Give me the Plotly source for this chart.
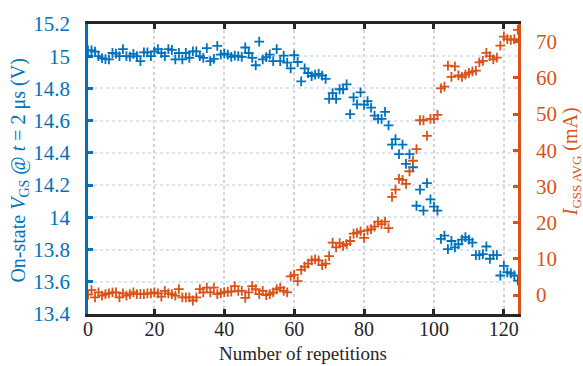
import plotly.graph_objects as go

# Repetition index
repetitions = list(range(1, 125))

# On-state gate-source voltage at t = 2 us (V)
vgs_on = [
    15.036, 15.036, 15.028, 15.000, 14.988, 14.982, 14.980, 15.020, 15.016, 15.000,
    15.044, 15.000, 14.998, 15.014, 15.000, 14.970, 15.024, 15.024, 15.000, 15.030,
    15.044, 15.020, 15.000, 15.044, 15.040, 14.980, 15.020, 14.980, 15.020, 14.990,
    15.030, 15.030, 15.000, 14.990, 15.050, 14.970, 14.984, 15.064, 15.010, 15.016,
    15.010, 14.996, 15.004, 15.000, 14.996, 15.054, 15.020, 14.990, 14.944, 15.090,
    14.980, 14.994, 15.010, 14.970, 15.044, 14.970, 15.004, 14.960, 14.924, 15.006,
    14.964, 14.844, 14.924, 14.896, 14.876, 14.886, 14.890, 14.880, 14.860, 14.735,
    14.771, 14.735, 14.795, 14.795, 14.825, 14.641, 14.745, 14.701, 14.775, 14.700,
    14.721, 14.681, 14.631, 14.611, 14.611, 14.655, 14.571, 14.451, 14.485, 14.392,
    14.451, 14.332, 14.392, 14.311, 14.072, 14.172, 14.042, 14.212, 14.112, 14.066,
    14.042, 13.866, 13.886, 13.803, 13.853, 13.813, 13.833, 13.862, 13.877, 13.862,
    13.843, 13.766, 13.766, 13.772, 13.819, 13.743, 13.766, 13.766, 13.639, 13.699,
    13.659, 13.653, 13.639, 13.607,
]

# Average gate leakage current (mA)
igss_avg = [
    0.08, 1.33, -0.64, 0.71, -0.19, 0.27, 0.43, 0.71, 0.71, -0.64,
    0.43, -0.19, 0.27, 0.71, 0.27, 0.27, 0.27, 0.43, 0.43, 0.71,
    0.43, -0.45, 1.15, 0.43, 0.27, -0.19, 1.60, -0.64, -0.64, -0.64,
    -1.52, -0.64, 1.60, 0.71, 2.03, 0.71, 2.03, 0.27, 0.50, 0.80,
    0.90, 0.97, 2.48, 1.15, 1.15, -0.80, 0.70, 2.48, 1.59, 0.26,
    1.15, -0.01, 0.26, 0.70, 1.59, 2.04, 1.15, 0.70, 5.15, 5.59,
    3.81, 6.92, 7.81, 8.70, 9.59, 9.86, 9.59, 8.26, 8.70, 10.75,
    14.48, 13.15, 14.30, 13.60, 14.04, 14.93, 16.97, 17.15, 17.59, 15.81,
    17.86, 18.20, 18.90, 20.30, 19.60, 20.30, 18.50, 27.10, 29.10, 32.10,
    31.80, 30.70, 34.20, 37.10, 40.30, 48.30, 48.30, 44.00, 48.70, 48.70,
    49.80, 57.10, 57.60, 63.40, 60.30, 63.20, 60.70, 60.30, 60.90, 61.40,
    61.80, 62.00, 64.30, 64.70, 66.90, 66.00, 65.10, 65.60, 68.90, 71.40,
    70.70, 70.50, 70.70, 73.30,
]

x_ticks = [1, 20, 40, 60, 80, 100, 120]
x_tick_text = ["0", "20", "40", "60", "80", "100", "120"]
left_ticks = [13.4, 13.6, 13.8, 14.0, 14.2, 14.4, 14.6, 14.8, 15.0, 15.2]
left_tick_text = ["13.4", "13.6", "13.8", "14", "14.2", "14.4", "14.6", "14.8", "15", "15.2"]
right_ticks = [0, 10, 20, 30, 40, 50, 60, 70]

BLUE = "#0072BD"
ORANGE = "#D95319"
DARK = "#262626"
FONT = "Liberation Serif, Times New Roman, serif"

fig = go.Figure()
fig.add_trace(go.Scatter(
    x=repetitions, y=vgs_on, mode="markers", yaxis="y",
    marker=dict(symbol="cross-thin", size=7, line=dict(color=BLUE, width=1.8)),
    showlegend=False,
))
fig.add_trace(go.Scatter(
    x=repetitions, y=igss_avg, mode="markers", yaxis="y2",
    marker=dict(symbol="cross-thin", size=7, line=dict(color=ORANGE, width=1.8)),
    showlegend=False,
))

pl, pr, pt, pb = 87.8, 518.3, 13.3, 314.0
W, H = 583, 366
pw, ph = pr - pl, pb - pt

fig.update_layout(
    width=W, height=H,
    margin=dict(l=pl, r=W - pr, t=pt, b=H - pb, pad=0),
    paper_bgcolor="white", plot_bgcolor="white",
    font=dict(family=FONT, size=20, color=DARK),
    xaxis=dict(
        range=[1, 124.05], tickvals=x_ticks, ticktext=x_tick_text,
        showline=True, linecolor=DARK, linewidth=2.6, mirror="ticks",
        ticks="inside", ticklen=5, tickwidth=2.6, tickcolor=DARK,
        showgrid=True, gridcolor="#d4d4d4", griddash="dot", gridwidth=2,
        zeroline=False, tickfont=dict(family=FONT, size=20, color=DARK),
        ticklabelstandoff=-5,
    ),
    yaxis=dict(
        range=[13.4, 15.2], tickvals=left_ticks, ticktext=left_tick_text,
        showline=True, linecolor=BLUE, linewidth=2.8,
        ticks="inside", ticklen=5, tickwidth=2.6, tickcolor=BLUE,
        showgrid=True, gridcolor="#d6e6f4", griddash="dot", gridwidth=2,
        zeroline=False, tickfont=dict(family=FONT, size=21, color=BLUE),
        ticklabelstandoff=11,
    ),
    yaxis2=dict(
        range=[-5.25, 74.9], tickvals=right_ticks, overlaying="y", side="right",
        showline=True, linecolor=ORANGE, linewidth=2.8,
        ticks="inside", ticklen=5, tickwidth=2.6, tickcolor=ORANGE,
        showgrid=False, zeroline=False,
        tickfont=dict(family=FONT, size=21, color=ORANGE),
        ticklabelstandoff=11,
    ),
    annotations=[
        dict(text="Number of repetitions", xref="paper", yref="paper",
             x=0.5, y=(pb - 355) / ph, xanchor="center", yanchor="middle",
             showarrow=False, font=dict(family=FONT, size=19, color=DARK)),
        dict(text="On-state <i>V</i><sub>GS</sub> @ <i>t</i> = 2 μs (V)",
             xref="paper", yref="paper", textangle=-90,
             x=(19 - pl) / pw, y=(pb - 165) / ph, xanchor="center", yanchor="middle",
             showarrow=False, font=dict(family=FONT, size=20, color=BLUE)),
        dict(text="<i>I</i><sub><span style='font-size:13px'>GSS AVG</span></sub> (mA)",
             xref="paper", yref="paper", textangle=-90,
             x=(572 - pl) / pw, y=(pb - 156) / ph, xanchor="center", yanchor="middle",
             showarrow=False, font=dict(family=FONT, size=20, color=ORANGE)),
    ],
)

fig.write_html("out.html")
